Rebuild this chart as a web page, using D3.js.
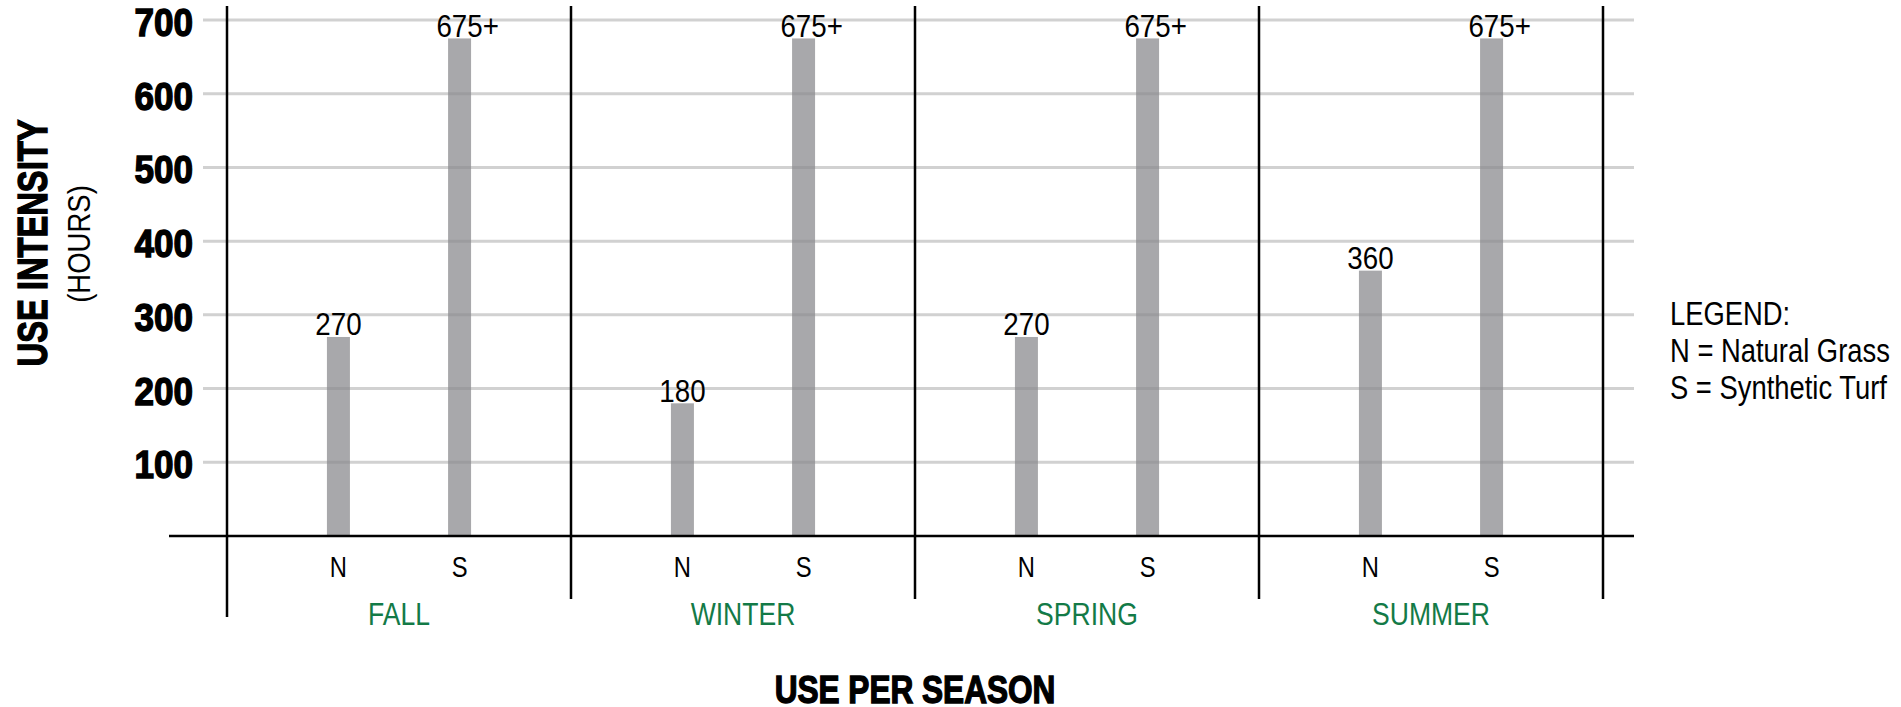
<!DOCTYPE html>
<html>
<head>
<meta charset="utf-8">
<script src="https://cdn.jsdelivr.net/npm/d3@7"></script>
<style>
  html, body { margin: 0; padding: 0; background: #fff; }
  svg { display: block; }
</style>
</head>
<body>
<svg id="chart" width="1901" height="707"></svg>
<script>
// Seasonal use (hours) for natural grass (N) and synthetic turf (S)
const seasons = ["FALL", "WINTER", "SPRING", "SUMMER"];
const surfaces = ["N", "S"];
const naturalHours = [270, 180, 270, 360];
const syntheticHours = [675, 675, 675, 675];
const naturalLabels = ["270", "180", "270", "360"];
const syntheticLabels = ["675+", "675+", "675+", "675+"];
const yTicks = [100, 200, 300, 400, 500, 600, 700];
const legendLines = ["LEGEND:", "N = Natural Grass", "S = Synthetic Turf"];

const rows = [];
seasons.forEach((s, i) => {
  rows.push({ season: s, surface: "N", value: naturalHours[i], label: naturalLabels[i] });
  rows.push({ season: s, surface: "S", value: syntheticHours[i], label: syntheticLabels[i] });
});

const svg = d3.select("#chart");
const FONT = '"Liberation Sans", Arial, sans-serif';

// Condensed lettering: place each text with a transform and squeeze it horizontally
function place(sel, fx, fy, sx, rot) {
  sel.attr("x", 0).attr("y", 0)
    .attr("transform", (d, i) =>
      `translate(${fx(d, i)},${fy(d, i)})` + (rot ? ` rotate(${rot})` : "") + ` scale(${sx},1)`);
}

const plotLeft = 227, plotRight = 1603;
const x = d3.scaleBand().domain(seasons).range([plotLeft, plotRight]).padding(0);
const xi = d3.scalePoint().domain(surfaces).range([0, x.bandwidth()]).padding(0.92);
const y = d3.scaleLinear().domain([0, 700]).range([536, 20]);
const barW = 23;

// Horizontal gridlines
svg.append("g")
  .selectAll("line")
  .data(yTicks)
  .join("line")
  .attr("x1", 203).attr("x2", 1634)
  .attr("y1", d => y(d)).attr("y2", d => y(d))
  .attr("stroke", "#d1d1d1").attr("stroke-width", 3);

// Bars
svg.append("g")
  .selectAll("rect")
  .data(rows)
  .join("rect")
  .attr("x", d => x(d.season) + xi(d.surface) - barW / 2)
  .attr("width", barW)
  .attr("y", d => y(d.value))
  .attr("height", d => y(0) - y(d.value))
  .attr("fill", "rgb(137,138,142)")
  .attr("fill-opacity", 0.74);

// Value labels above bars
const valSx = 0.88;
const valText = svg.append("g")
  .selectAll("text")
  .data(rows)
  .join("text")
  .attr("text-anchor", "middle")
  .style("font-family", FONT)
  .style("font-size", "31.5px")
  .attr("fill", "#000")
  .text(d => d.label);
valText.each(function (d) {
  // the number stays centred on its bar; a trailing "+" hangs to the right
  let shift = 0;
  if (d.label.endsWith("+")) {
    const n = this.getNumberOfChars();
    shift = this.getSubStringLength(n - 1, 1) * valSx / 2;
  }
  place(d3.select(this), () => x(d.season) + xi(d.surface) + shift, () => y(d.value) - 1.5, valSx);
});

// Y axis tick labels
place(
  svg.append("g")
    .selectAll("text")
    .data(yTicks)
    .join("text")
    .attr("dy", "0.36em")
    .attr("text-anchor", "end")
    .style("font-family", FONT)
    .style("font-size", "39px")
    .style("font-weight", "bold")
    .attr("fill", "#000")
    .attr("stroke", "#000").attr("stroke-width", 1.4)
    .text(d => d),
  () => 193, d => y(d) + 2, 0.9);

// Baseline (x axis)
svg.append("line")
  .attr("x1", 169).attr("x2", 1634)
  .attr("y1", y(0)).attr("y2", y(0))
  .attr("stroke", "#000").attr("stroke-width", 2.5);

// Season dividers
const edges = seasons.map(s => x(s)).concat([plotRight]);
svg.append("g")
  .selectAll("line")
  .data(edges)
  .join("line")
  .attr("x1", d => d).attr("x2", d => d)
  .attr("y1", 6)
  .attr("y2", (d, i) => i === 0 ? 617 : 599)
  .attr("stroke", "#000").attr("stroke-width", 2.5);

// Surface labels (N / S)
place(
  svg.append("g")
    .selectAll("text")
    .data(rows)
    .join("text")
    .attr("text-anchor", "middle")
    .style("font-family", FONT)
    .style("font-size", "29px")
    .attr("fill", "#000")
    .text(d => d.surface),
  d => x(d.season) + xi(d.surface), () => 577, 0.82);

// Season labels
place(
  svg.append("g")
    .selectAll("text")
    .data(seasons)
    .join("text")
    .attr("text-anchor", "middle")
    .style("font-family", FONT)
    .style("font-size", "32px")
    .attr("fill", "#137a47")
    .text(d => d),
  d => x(d) + x.bandwidth() / 2, () => 625, 0.83);

// Axis titles
place(
  svg.append("text")
    .attr("text-anchor", "middle")
    .style("font-family", FONT)
    .style("font-size", "39px")
    .style("font-weight", "bold")
    .attr("fill", "#000")
    .attr("stroke", "#000").attr("stroke-width", 1.4)
    .text("USE PER SEASON"),
  () => (plotLeft + plotRight) / 2, () => 703, 0.81);

place(
  svg.append("text")
    .attr("text-anchor", "middle")
    .style("font-family", FONT)
    .style("font-size", "43px")
    .style("font-weight", "bold")
    .attr("fill", "#000")
    .attr("stroke", "#000").attr("stroke-width", 1.4)
    .text("USE INTENSITY"),
  () => 46.5, () => 243, 0.76, -90);

place(
  svg.append("text")
    .attr("text-anchor", "middle")
    .style("font-family", FONT)
    .style("font-size", "32px")
    .attr("fill", "#000")
    .text("(HOURS)"),
  () => 90, () => 244, 0.86, -90);

// Legend
place(
  svg.append("g")
    .selectAll("text")
    .data(legendLines)
    .join("text")
    .style("font-family", FONT)
    .style("font-size", "33px")
    .attr("fill", "#000")
    .text(d => d),
  () => 1670, (d, i) => 325 + i * 37, 0.83);
</script>
</body>
</html>
